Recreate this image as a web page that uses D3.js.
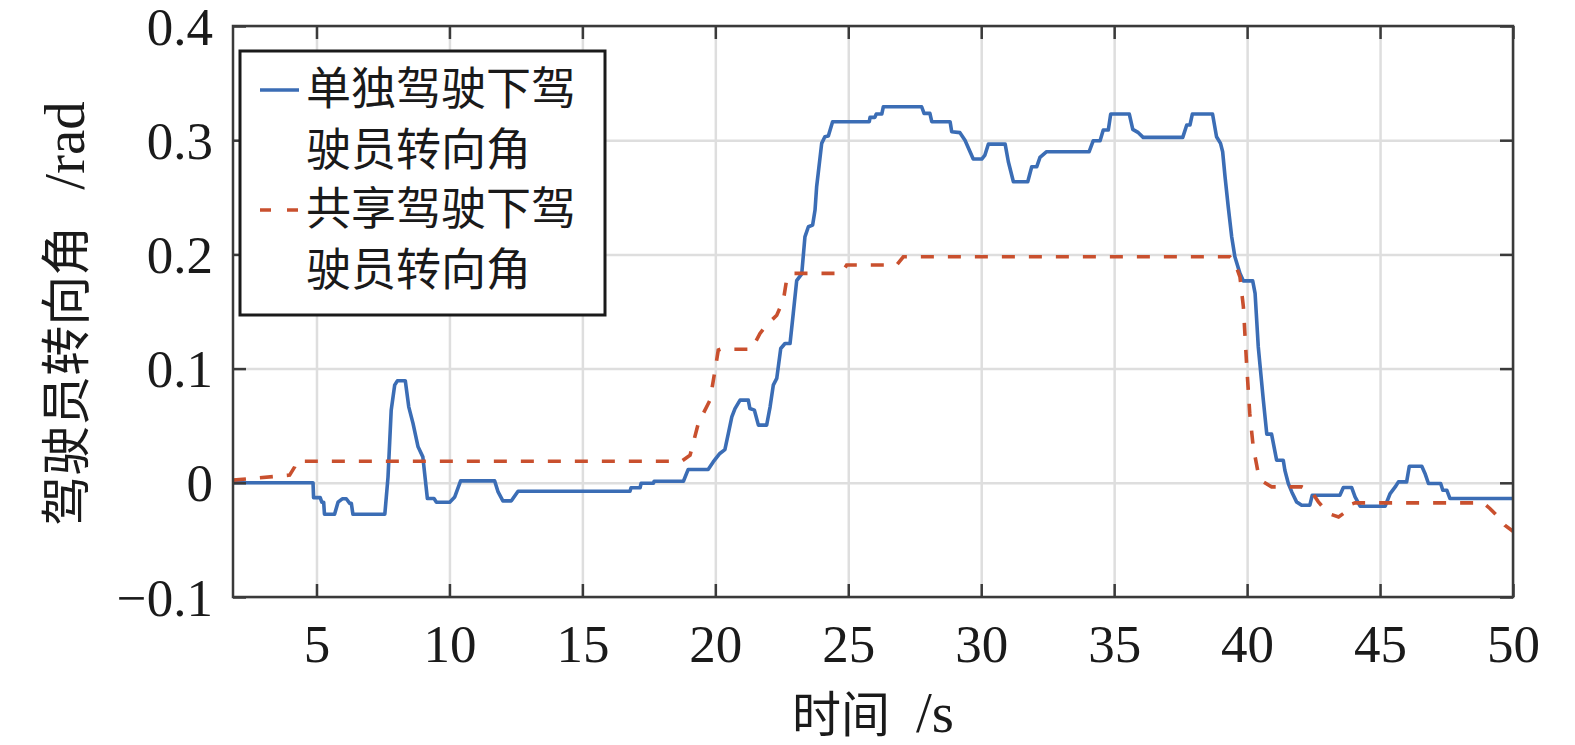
<!DOCTYPE html>
<html>
<head>
<meta charset="utf-8">
<script src="https://cdn.jsdelivr.net/npm/d3@7"></script>
<style>
  html, body { margin: 0; padding: 0; background: #fff; }
  svg { display: block; }
</style>
</head>
<body>
<svg id="chart" width="1575" height="745"></svg>
<script>
// ---- data ----
const singleT = [1.86, 4.87, 4.89, 5.14, 5.2, 5.27, 5.3, 5.68, 5.81, 5.97, 6.12, 6.25, 6.31, 6.37, 7.57, 7.69, 7.81, 7.94, 8.04, 8.34, 8.47, 8.63, 8.82, 9.0, 9.17, 9.42, 9.51, 10.01, 10.2, 10.42, 11.7, 11.83, 12.01, 12.33, 12.58, 16.79, 16.83, 17.17, 17.21, 17.67, 17.7, 18.8, 18.98, 19.73, 19.92, 20.17, 20.36, 20.49, 20.62, 20.74, 20.93, 21.24, 21.3, 21.47, 21.62, 21.93, 22.06, 22.18, 22.31, 22.46, 22.62, 22.81, 22.93, 23.06, 23.25, 23.37, 23.5, 23.66, 23.75, 23.81, 23.87, 24.0, 24.12, 24.25, 24.41, 25.79, 25.82, 26.0, 26.05, 26.26, 26.32, 27.76, 27.85, 28.07, 28.14, 28.83, 28.89, 29.2, 29.39, 29.58, 29.7, 30.02, 30.14, 30.27, 30.9, 31.02, 31.21, 31.75, 31.9, 32.09, 32.21, 32.46, 34.06, 34.21, 34.47, 34.59, 34.78, 34.87, 35.57, 35.7, 35.91, 36.09, 37.58, 37.73, 37.85, 37.94, 38.7, 38.85, 39.0, 39.08, 39.17, 39.29, 39.42, 39.54, 39.73, 39.86, 40.21, 40.3, 40.42, 40.61, 40.74, 40.92, 41.11, 41.36, 41.42, 41.55, 41.68, 41.86, 42.05, 42.36, 42.45, 43.49, 43.62, 43.93, 44.06, 44.25, 45.19, 45.38, 45.57, 45.69, 46.0, 46.1, 46.57, 46.69, 46.82, 47.28, 47.36, 47.51, 47.63, 50.0];
const singleAngle = [0.0, 0.0, -0.013, -0.013, -0.017, -0.017, -0.0275, -0.0275, -0.017, -0.014, -0.014, -0.018, -0.018, -0.0275, -0.0275, 0.005, 0.0636, 0.0855, 0.0893, 0.0893, 0.0665, 0.052, 0.0315, 0.0227, -0.0138, -0.0138, -0.017, -0.017, -0.0124, 0.0017, 0.0017, -0.008, -0.0158, -0.0158, -0.0074, -0.0074, -0.0043, -0.0043, -0.0004, -0.0004, 0.0014, 0.0014, 0.0117, 0.0117, 0.0183, 0.0257, 0.029, 0.0432, 0.0577, 0.065, 0.0724, 0.0724, 0.065, 0.0636, 0.0505, 0.0505, 0.0665, 0.0855, 0.0914, 0.1176, 0.122, 0.122, 0.148, 0.177, 0.183, 0.2154, 0.2242, 0.2257, 0.2388, 0.2592, 0.271, 0.2972, 0.303, 0.3036, 0.3162, 0.3162, 0.32, 0.32, 0.3229, 0.3229, 0.3293, 0.3293, 0.3235, 0.3235, 0.3162, 0.3162, 0.3074, 0.3066, 0.3, 0.2899, 0.2835, 0.2835, 0.287, 0.2966, 0.2966, 0.2811, 0.2636, 0.2636, 0.2768, 0.2768, 0.2849, 0.2899, 0.2899, 0.2995, 0.2995, 0.3089, 0.3089, 0.3229, 0.3229, 0.3095, 0.3066, 0.3025, 0.3025, 0.3133, 0.3133, 0.3229, 0.3229, 0.303, 0.2972, 0.2899, 0.268, 0.2417, 0.2154, 0.1979, 0.1834, 0.1768, 0.1768, 0.1658, 0.119, 0.0724, 0.0426, 0.0426, 0.0198, 0.0198, 0.011, -0.0006, -0.008, -0.0167, -0.0196, -0.0196, -0.0109, -0.0109, -0.0041, -0.0041, -0.0124, -0.0205, -0.0205, -0.0094, -0.0036, 0.0008, 0.0008, 0.0145, 0.0145, 0.0082, -0.0006, -0.0006, -0.0065, -0.0065, -0.0138, -0.0138];

const sharedT = [1.86, 3.99, 4.18, 4.24, 18.73, 19.05, 19.36, 19.8, 19.99, 20.11, 20.2, 21.37, 21.68, 21.87, 22.31, 22.56, 22.68, 22.87, 24.75, 24.94, 26.82, 27.07, 39.35, 39.54, 39.73, 39.86, 39.98, 40.1, 40.23, 40.42, 40.61, 40.92, 42.06, 42.43, 42.68, 43.06, 43.44, 43.62, 43.81, 44.06, 48.88, 49.13, 49.38, 49.69, 50.0];
const sharedAngle = [0.0023, 0.0067, 0.014, 0.0189, 0.0189, 0.0242, 0.052, 0.0724, 0.0987, 0.1162, 0.117, 0.117, 0.1308, 0.1366, 0.1468, 0.16, 0.1775, 0.1834, 0.1834, 0.1907, 0.1907, 0.1979, 0.1979, 0.1927, 0.1804, 0.1541, 0.1045, 0.0607, 0.0315, 0.0081, 0.0008, -0.0036, -0.0036, -0.008, -0.0167, -0.0269, -0.0299, -0.0269, -0.0196, -0.0176, -0.0176, -0.0225, -0.0284, -0.0371, -0.0424];

const xTickValues = [5, 10, 15, 20, 25, 30, 35, 40, 45, 50];
const xTickLabels = ["5", "10", "15", "20", "25", "30", "35", "40", "45", "50"];
const yTickValues = [-0.1, 0, 0.1, 0.2, 0.3, 0.4];
const yTickLabels = ["\u22120.1", "0", "0.1", "0.2", "0.3", "0.4"];

const seriesNames = [["单独驾驶下驾", "驶员转向角"], ["共享驾驶下驾", "驶员转向角"]];
const xTitleParts = ["时间", "/s"];
const yTitleParts = ["驾驶员转向角", "/rad"];

// ---- layout ----
const L = 233, T = 26, R = 1513, B = 597;
const W = R - L, H = B - T;
const blue = "#3b6db5", red = "#c9502e";
const serif = "'Liberation Serif', 'Noto Sans CJK SC', serif";
const cjk = "'Noto Sans CJK SC', sans-serif";

const svg = d3.select("#chart");
const x = d3.scaleLinear().domain([1.86, 50]).range([L, R]);
const y = d3.scaleLinear().domain([-0.1, 0.4]).range([B, T]);

// grid
const grid = svg.append("g");
grid.append("g").attr("transform", `translate(0,${B})`)
  .call(d3.axisBottom(x).tickValues(xTickValues).tickSize(-H).tickFormat(""))
  .call(g => g.select(".domain").remove())
  .call(g => g.selectAll("line").attr("stroke", "#dedede").attr("stroke-width", 2.5));
grid.append("g").attr("transform", `translate(${L},0)`)
  .call(d3.axisLeft(y).tickValues(yTickValues).tickSize(-W).tickFormat(""))
  .call(g => g.select(".domain").remove())
  .call(g => g.selectAll("line").attr("stroke", "#dedede").attr("stroke-width", 2.5));

// lines
svg.append("clipPath").attr("id", "clip")
  .append("rect").attr("x", L).attr("y", T).attr("width", W).attr("height", H);
const line = d3.line().x(d => x(d[0])).y(d => y(d[1]));
const singleData = singleT.map((t, i) => [t, singleAngle[i]]);
const sharedData = sharedT.map((t, i) => [t, sharedAngle[i]]);
const plot = svg.append("g").attr("clip-path", "url(#clip)");
plot.append("path").datum(singleData).attr("d", line)
  .attr("fill", "none").attr("stroke", blue).attr("stroke-width", 3.6)
  .attr("stroke-linejoin", "round");
plot.append("path").datum(sharedData).attr("d", line)
  .attr("fill", "none").attr("stroke", red).attr("stroke-width", 3.6)
  .attr("stroke-dasharray", "13,14");

// axes (inward ticks on all four sides)
const axColor = "#3a3a3a";
function styleAxis(g) {
  g.select(".domain").remove();
  g.selectAll(".tick line").attr("stroke", axColor).attr("stroke-width", 2.5);
  g.selectAll(".tick text").attr("fill", "#1a1a1a").attr("font-family", serif).attr("font-size", 53);
}
svg.append("g").attr("transform", `translate(0,${B})`)
  .call(d3.axisBottom(x).tickValues(xTickValues).tickSize(-13).tickPadding(27)
    .tickFormat((d, i) => xTickLabels[i]))
  .call(styleAxis);
svg.append("g").attr("transform", `translate(0,${T})`)
  .call(d3.axisTop(x).tickValues(xTickValues).tickSize(-13).tickFormat(""))
  .call(styleAxis);
svg.append("g").attr("transform", `translate(${L},0)`)
  .call(d3.axisLeft(y).tickValues(yTickValues).tickSize(-13).tickPadding(20)
    .tickFormat((d, i) => yTickLabels[i]))
  .call(styleAxis)
  .call(g => g.selectAll(".tick text").attr("dy", "0.34em"));
svg.append("g").attr("transform", `translate(${R},0)`)
  .call(d3.axisRight(y).tickValues(yTickValues).tickSize(-13).tickFormat(""))
  .call(styleAxis);
svg.append("rect").attr("x", L).attr("y", T).attr("width", W).attr("height", H)
  .attr("fill", "none").attr("stroke", axColor).attr("stroke-width", 2.5);

// axis titles
function titleText(sel, parts, fs, gap) {
  sel.attr("text-anchor", "middle").attr("fill", "#1a1a1a");
  sel.append("tspan").attr("font-family", cjk).attr("font-size", fs).text(parts[0]);
  sel.append("tspan").attr("font-family", serif).attr("font-size", 57).attr("dx", gap).text(parts[1]);
}
svg.append("text").attr("x", (L + R) / 2).attr("y", 732).call(titleText, xTitleParts, 49, 26);
svg.append("text").attr("transform", `translate(84,${(T + B) / 2 + 2}) rotate(-90)`)
  .call(titleText, yTitleParts, 50, 36);

// legend
const lg = svg.append("g");
lg.append("rect").attr("x", 240).attr("y", 51).attr("width", 365).attr("height", 264)
  .attr("fill", "#fff").attr("stroke", "#1a1a1a").attr("stroke-width", 3);
const legendRows = [{ c: blue, dash: null, y0: 90 }, { c: red, dash: "11,16", y0: 210 }];
legendRows.forEach((r, i) => {
  lg.append("line").attr("x1", 260).attr("x2", 299).attr("y1", r.y0).attr("y2", r.y0)
    .attr("stroke", r.c).attr("stroke-width", 3.6).attr("stroke-dasharray", r.dash);
  seriesNames[i].forEach((s, j) => {
    lg.append("text").attr("x", 306).attr("y", r.y0 + 15 + j * 61)
      .attr("font-family", cjk).attr("font-size", 45)
      .attr("fill", "#1a1a1a").text(s);
  });
});
</script>
</body>
</html>
